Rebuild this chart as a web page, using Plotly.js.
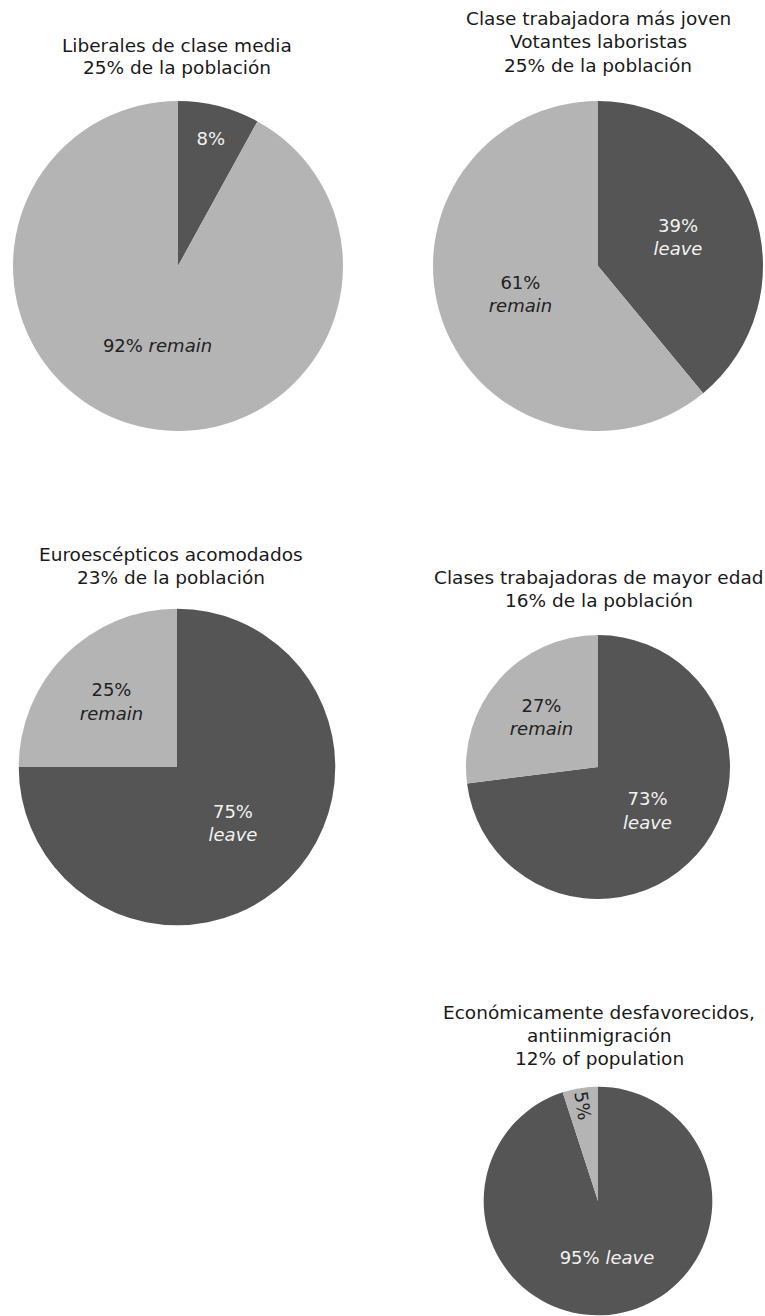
<!DOCTYPE html>
<html>
<head>
<meta charset="utf-8">
<script src="https://cdn.plot.ly/plotly-3.0.1.min.js"></script>
<style>
  html, body { margin: 0; padding: 0; background: #ffffff; }
  #chart { width: 765px; height: 1316px; }
</style>
</head>
<body>
<div id="chart"></div>
<script>
// ---------- data ----------
const groupNames = [
  'Liberales de clase media',
  'Clase trabajadora más joven<br>Votantes laboristas',
  'Euroescépticos acomodados',
  'Clases trabajadoras de mayor edad',
  'Económicamente desfavorecidos,<br>antiinmigración'
];
const populationLabels = [
  '25% de la población',
  '25% de la población',
  '23% de la población',
  '16% de la población',
  '12% of population'
];
const populationShare = [25, 25, 23, 16, 12];
const sliceLabels = ['leave', 'remain'];
const leaveValues = [8, 39, 75, 73, 95];
const remainValues = [92, 61, 25, 27, 5];
const leaveTemplates = [
  '%{value}%',
  '%{value}%<br><i>%{label}</i>',
  '%{value}%<br><i>%{label}</i>',
  '%{value}%<br><i>%{label}</i>',
  '%{value}% <i>%{label}</i>'
];
const remainTemplates = [
  '%{value}% <i>%{label}</i>',
  '%{value}%<br><i>%{label}</i>',
  '%{value}%<br><i>%{label}</i>',
  '%{value}%<br><i>%{label}</i>',
  '%{value}%'
];

// ---------- layout settings ----------
const W = 765, H = 1316;
const FONT = 'DejaVu Sans, sans-serif';
const centers = [[178, 266], [598, 266], [177, 767], [598, 767], [598, 1201]];
const baseRadius = 165;      // radius for a 25% group
const baseShare = 25;
const titleX = [177, 598, 171, 599, 599];
const titleLastLineY = [68, 65, 577, 600, 1058];
const titleLineGap = 23;
const DARK = '#555555';
const LIGHT = '#b4b4b4';

const traces = [];
const annotations = [];
for (let i = 0; i < groupNames.length; i++) {
  const r = baseRadius * Math.sqrt(populationShare[i] / baseShare);
  const [cx, cy] = centers[i];
  traces.push({
    type: 'pie',
    labels: sliceLabels,
    values: [leaveValues[i], remainValues[i]],
    texttemplate: [leaveTemplates[i], remainTemplates[i]],
    textposition: 'inside',
    insidetextorientation: 'auto',
    insidetextfont: { family: FONT, size: 18, color: ['#f2f2f2', '#222222'] },
    marker: { colors: [DARK, LIGHT], line: { width: 0 } },
    sort: false,
    direction: 'clockwise',
    rotation: 0,
    hoverinfo: 'skip',
    showlegend: false,
    domain: {
      x: [(cx - r) / W, (cx + r) / W],
      y: [1 - (cy + r) / H, 1 - (cy - r) / H]
    }
  });
  const lines = (groupNames[i] + '<br>' + populationLabels[i]).split('<br>');
  lines.forEach((line, k) => {
    const y = titleLastLineY[i] - (lines.length - 1 - k) * titleLineGap;
    annotations.push({
      xref: 'paper', yref: 'paper',
      x: titleX[i] / W, y: 1 - y / H,
      xanchor: 'center', yanchor: 'middle',
      showarrow: false,
      text: line,
      font: { family: FONT, size: 18.5, color: '#1a1a1a' }
    });
  });
}

const layout = {
  width: W, height: H,
  margin: { l: 0, r: 0, t: 0, b: 0 },
  paper_bgcolor: '#ffffff',
  plot_bgcolor: '#ffffff',
  showlegend: false,
  annotations: annotations
};

Plotly.newPlot('chart', traces, layout, { staticPlot: true, displayModeBar: false });
</script>
</body>
</html>
